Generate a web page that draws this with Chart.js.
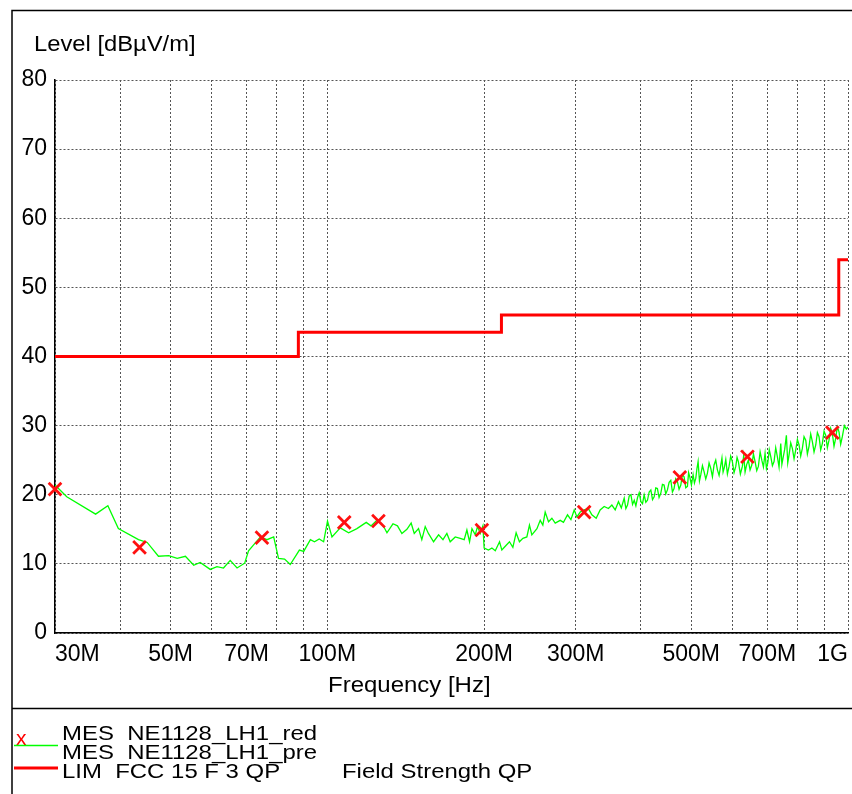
<!DOCTYPE html>
<html>
<head>
<meta charset="utf-8">
<script src="https://cdn.jsdelivr.net/npm/chart.js@4.4.0/dist/chart.umd.min.js"></script>
<style>
  html, body { margin: 0; padding: 0; background: #fff; }
  #wrap { width: 852px; height: 794px; }
</style>
</head>
<body>
<div id="wrap"><canvas id="myChart" width="852" height="794"></canvas></div>
<script>
// axis texts
const yTitle = 'Level [dBµV/m]';
const xTitle = 'Frequency [Hz]';

// x grid lines (MHz) and their labels
const xGridFreqs = [30, 40, 50, 60, 70, 80, 90, 100, 200, 300, 400, 500, 600, 700, 800, 900, 1000];
const xTickLabels = ['30M', '', '50M', '', '70M', '', '', '100M', '200M', '300M', '', '500M', '', '700M', '', '', '1G'];

// limit line FCC 15 F 3 QP (MHz / dBµV/m)
const limitFreq = [30, 88, 216, 960, 1000];
const limitLevel = [40, 43.5, 46, 54, 54];

// final measurement (red x)
const markFreq = [30.0, 43.6, 74.9, 107.8, 125.4, 198.1, 311.4, 475.3, 641.0, 933.0];
const markLevel = [20.8, 12.4, 13.8, 16.0, 16.2, 14.9, 17.5, 22.5, 25.5, 29.0];

// prescan trace (green)
const preFreq = [30.0, 31.6, 35.9, 37.9, 39.7, 43.4, 45.1, 47.4, 49.6, 51.5, 53.4, 55.4, 57.0, 59.6, 61.4, 63.2, 65.1, 67.1, 69.4, 70.6,
  74.4, 76.6, 78.9, 80.6, 82.8, 84.9, 88.4, 90.1, 92.8, 94.5, 96.5, 98.4, 100.1, 102.1, 105.9, 109.9, 114.0, 118.8, 121.3, 124.9,
  128.3, 130.2, 133.7, 136.4, 139.1, 142.2, 144.9, 146.9, 149.7, 151.9, 154.2, 156.4, 160.0, 163.6, 166.8, 169.7, 172.2, 176.1, 180.0, 183.2,
  185.4, 187.6, 189.6, 192.4, 194.3, 196.7, 199.0, 200.1, 204.0, 207.1, 210.2, 214.2, 216.4, 220.6, 223.8, 227.2, 230.5, 233.9, 237.5, 241.7,
  244.5, 247.1, 252.7, 256.4, 259.4, 262.1, 266.0, 270.0, 274.0, 280.1, 284.2, 289.3, 293.7, 298.0, 301.6, 306.0, 311.4, 317.3, 322.2, 328.4,
  334.2, 340.2, 346.7, 352.0, 357.2, 362.4, 367.0, 371.7, 374.5, 377.2, 380.0, 382.9, 385.7, 388.6, 391.4, 394.3, 397.2, 400.2, 403.1, 406.0,
  409.0, 412.0, 415.1, 418.2, 421.3, 424.4, 427.4, 430.5, 433.7, 437.0, 440.2, 443.4, 446.7, 450.0, 453.4, 456.8, 460.1, 463.4, 466.8, 470.3,
  473.8, 477.4, 480.9, 484.4, 488.0, 491.6, 494.2, 496.8, 500.4, 504.1, 507.1, 510.2, 512.8, 515.4, 518.5, 521.6, 525.4, 529.3, 533.1, 537.0,
  541.0, 545.1, 549.1, 553.1, 557.2, 561.3, 565.5, 569.8, 572.7, 575.6, 579.0, 582.5, 586.7, 591.0, 595.3, 599.7, 604.2, 608.8, 612.3, 615.8,
  621.3, 626.8, 630.6, 634.4, 639.0, 643.6, 648.5, 653.5, 658.3, 663.1, 668.0, 672.8, 678.0, 683.1, 688.0, 693.0, 697.2, 701.4, 706.0, 710.7,
  715.9, 721.1, 726.4, 731.7, 737.2, 742.8, 746.5, 750.3, 755.9, 761.5, 766.1, 770.7, 776.3, 781.9, 787.8, 793.7, 799.5, 805.4, 811.3, 817.2,
  823.4, 829.6, 835.6, 841.7, 848.0, 854.2, 860.6, 867.1, 873.4, 879.8, 886.2, 892.7, 899.5, 906.3, 912.8, 919.4, 926.2, 933.0, 940.0, 947.1,
  954.0, 961.0, 968.1, 975.2, 984.0, 992.7, 1000];
const preLevel = [21.4, 19.7, 17.2, 18.4, 15.1, 13.5, 13.1, 11.1, 11.2, 10.8, 11.1, 9.8, 10.2, 9.2, 9.6, 9.4, 10.5, 9.4, 10.1, 11.9,
  13.9, 13.5, 13.9, 10.8, 10.7, 9.9, 12.0, 11.8, 13.5, 13.2, 13.6, 13.2, 16.2, 13.9, 15.2, 14.5, 15.1, 16.0, 15.5, 16.4,
  15.4, 14.5, 15.8, 15.5, 14.4, 15.0, 15.9, 14.4, 15.1, 13.5, 15.4, 14.4, 13.2, 14.2, 13.5, 14.4, 13.2, 13.9, 13.7, 13.5,
  14.9, 13.2, 15.1, 14.2, 15.4, 14.4, 15.5, 12.3, 12.0, 12.3, 11.9, 13.2, 12.0, 12.7, 13.2, 12.4, 14.5, 13.2, 13.7, 13.9,
  15.6, 14.2, 15.1, 16.3, 15.6, 17.5, 16.1, 16.6, 15.9, 16.3, 16.0, 17.1, 16.4, 17.8, 16.8, 17.5, 17.8, 18.0, 17.1, 16.6,
  17.8, 18.3, 18.0, 18.5, 17.8, 19.0, 18.1, 19.5, 18.0, 18.5, 19.8, 20.0, 18.6, 19.2, 18.4, 19.6, 20.3, 19.0, 18.7, 20.0,
  18.9, 19.2, 20.4, 20.7, 19.3, 19.7, 21.0, 20.9, 19.6, 20.2, 21.5, 21.4, 20.1, 20.7, 21.8, 22.1, 20.4, 20.9, 22.3, 21.9,
  20.8, 21.4, 22.9, 22.6, 21.0, 21.2, 23.2, 22.6, 21.4, 22.9, 21.7, 22.4, 23.8, 24.8, 22.0, 22.9, 24.2, 23.3, 22.3, 23.1,
  24.6, 23.8, 22.6, 24.3, 25.0, 23.6, 22.8, 24.3, 25.3, 23.3, 24.0, 25.1, 23.0, 24.1, 25.6, 24.8, 23.2, 24.1, 25.4, 24.8,
  23.0, 24.1, 25.7, 23.3, 24.4, 25.0, 23.6, 24.3, 25.9, 24.8, 23.5, 24.1, 26.2, 25.0, 24.0, 26.0, 23.8, 24.6, 26.5, 25.5,
  24.2, 24.8, 26.8, 25.5, 24.0, 27.4, 24.4, 25.3, 26.6, 28.6, 24.6, 25.8, 27.5, 26.7, 25.2, 26.5, 28.0, 27.2, 25.6, 26.7,
  28.4, 27.9, 25.9, 27.0, 28.8, 27.7, 26.2, 27.2, 29.0, 28.4, 26.5, 27.4, 29.2, 28.6, 26.8, 27.9, 29.6, 28.9, 27.0, 28.2,
  29.8, 29.1, 27.3, 28.4, 30.0, 29.5, 29.8];

// legend texts
const legendLabels = ['MES  NE1128_LH1_red', 'MES  NE1128_LH1_pre', 'LIM  FCC 15 F 3 QP'];
const limitNote = 'Field Strength QP';

const FONT = '"Liberation Sans", Arial, sans-serif';

function toPoints(xs, ys) {
    return xs.map((x, i) => ({ x: x, y: ys[i] }));
}

// text a little wider than the font, like the original plot
function wideText(ctx, text, x, y, sx) {
    ctx.save();
    ctx.translate(x, y);
    ctx.scale(sx, 1);
    ctx.fillText(text, 0, 0);
    ctx.restore();
}

// frame, titles, x tick labels and the legend box below the plot
const framePlugin = {
    id: 'frame',
    afterDraw(chart) {
        const ctx = chart.ctx;
        const xScale = chart.scales.x;
        ctx.save();
        ctx.strokeStyle = '#000';
        ctx.lineWidth = 1.5;
        ctx.beginPath();
        ctx.moveTo(12, 794);
        ctx.lineTo(12, 10.5);
        ctx.lineTo(852, 10.5);
        ctx.moveTo(12, 708.5);
        ctx.lineTo(852, 708.5);
        ctx.stroke();

        ctx.fillStyle = '#000';
        ctx.textBaseline = 'middle';

        // x tick labels: first one starts at the axis, last one ends at it
        ctx.font = '23px ' + FONT;
        const last = xGridFreqs.length - 1;
        xGridFreqs.forEach((f, i) => {
            if (!xTickLabels[i]) return;
            ctx.textAlign = i === 0 ? 'left' : (i === last ? 'right' : 'center');
            ctx.fillText(xTickLabels[i], xScale.getPixelForValue(f), 655);
        });

        ctx.textAlign = 'left';
        ctx.font = '22px ' + FONT;
        wideText(ctx, yTitle, 34, 45, 1.08);
        wideText(ctx, xTitle, 328, 686, 1.09);

        // legend
        ctx.font = '21px ' + FONT;
        ctx.fillStyle = '#ff0000';
        ctx.fillText('x', 16, 739);
        ctx.fillStyle = '#000';
        wideText(ctx, legendLabels[0], 62, 734, 1.14);
        wideText(ctx, legendLabels[1], 62, 753, 1.14);
        wideText(ctx, legendLabels[2], 62, 772, 1.14);
        wideText(ctx, limitNote, 342, 772, 1.14);

        ctx.strokeStyle = '#00ff00';
        ctx.lineWidth = 1.5;
        ctx.beginPath();
        ctx.moveTo(14, 745.5);
        ctx.lineTo(58, 745.5);
        ctx.stroke();
        ctx.strokeStyle = '#ff0000';
        ctx.lineWidth = 3;
        ctx.beginPath();
        ctx.moveTo(14, 768);
        ctx.lineTo(58, 768);
        ctx.stroke();
        ctx.restore();
    }
};

const ctx = document.getElementById('myChart').getContext('2d');
const chart = new Chart(ctx, {
    type: 'line',
    data: {
        datasets: [{
            label: legendLabels[0],
            data: toPoints(markFreq, markLevel),
            showLine: false,
            pointStyle: 'crossRot',
            pointRadius: 9,
            pointBorderWidth: 2.8,
            pointBorderColor: '#ff1010',
            pointBackgroundColor: '#ff1010',
            clip: false,
            order: 0
        }, {
            label: legendLabels[1],
            data: toPoints(preFreq, preLevel),
            borderColor: '#00ff00',
            borderWidth: 1.3,
            pointRadius: 0,
            tension: 0,
            order: 1
        }, {
            label: legendLabels[2],
            data: toPoints(limitFreq, limitLevel),
            borderColor: '#ff0000',
            borderWidth: 3,
            pointRadius: 0,
            stepped: true,
            order: 2
        }]
    },
    options: {
        responsive: false,
        animation: false,
        devicePixelRatio: 1,
        layout: { autoPadding: false, padding: { left: 0, right: 4, top: 80, bottom: 121 } },
        plugins: {
            legend: { display: false },
            tooltip: { enabled: false }
        },
        scales: {
            x: {
                type: 'logarithmic',
                min: 30,
                max: 1000,
                afterBuildTicks(scale) {
                    scale.ticks = xGridFreqs.map(v => ({ value: v }));
                },
                afterFit(scale) {
                    scale.height = 40;
                    scale.paddingLeft = 0;
                    scale.paddingRight = 0;
                },
                ticks: { display: false },
                grid: { color: '#555', lineWidth: 1, drawTicks: false },
                border: { display: true, color: '#000', width: 1.5, dash: [2, 2] }
            },
            y: {
                min: 0,
                max: 80,
                afterFit(scale) {
                    scale.width = 55;
                    scale.paddingTop = 0;
                    scale.paddingBottom = 0;
                },
                ticks: {
                    stepSize: 10,
                    padding: 8,
                    color: '#000',
                    font: { size: 23, family: FONT }
                },
                grid: { color: '#555', lineWidth: 1, drawTicks: false },
                border: { display: true, color: '#000', width: 1.5, dash: [2, 2] }
            }
        }
    },
    plugins: [framePlugin]
});
</script>
</body>
</html>
